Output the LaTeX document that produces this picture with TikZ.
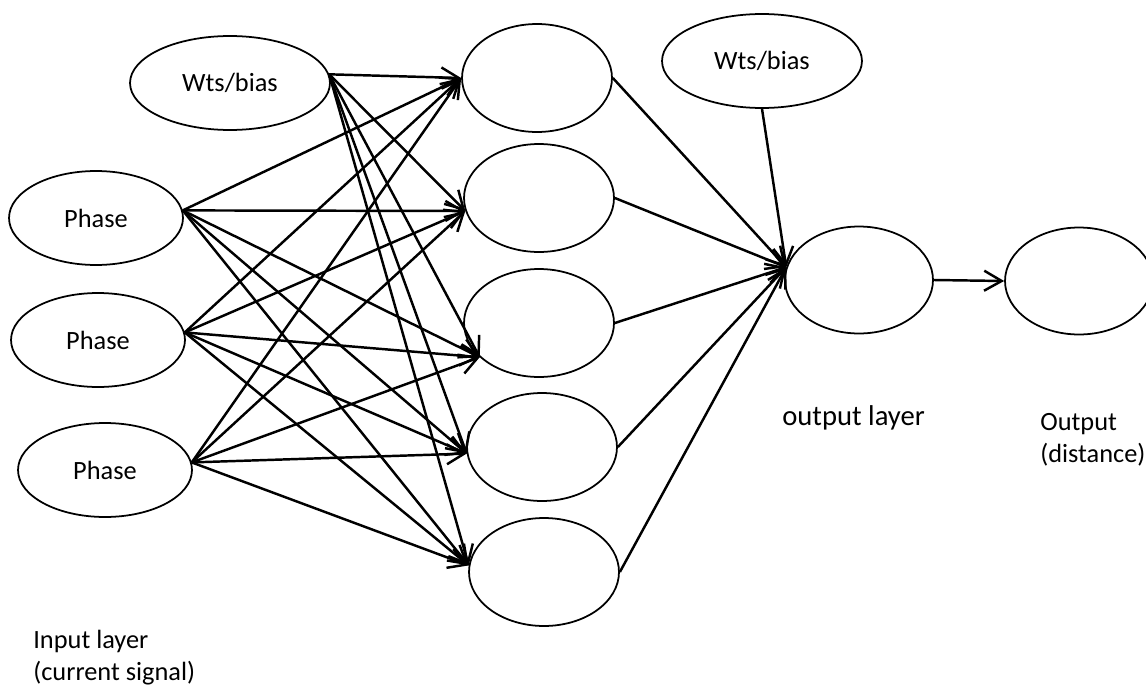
\documentclass[tikz,border=0pt]{standalone}
\usepackage{fontspec}
\setmainfont{Carlito}
\usetikzlibrary{arrows.meta,shapes.geometric}

\begin{document}
\begin{tikzpicture}[x=0.02cm,y=-0.02cm,
  font=\fontsize{15}{18}\selectfont,
  unit/.style={draw,ellipse,line width=1pt,inner sep=0pt,minimum width=3cm,minimum height=2.16cm},
  inp/.style={unit,minimum width=3.48cm,minimum height=1.88cm},
  wts/.style={unit,minimum width=4cm,minimum height=1.88cm},
  arr/.style={line width=1.4pt,-{Straight Barb[length=3.5mm,width=4mm]}}]
\useasboundingbox (0,0) rectangle (1146,693);
% input layer
\node[wts] (wb1) at (230,83) {Wts/bias};
\node[inp] (ph1) at (96,218) {Phase};
\node[inp] (ph2) at (98,340) {Phase};
\node[inp] (ph3) at (105,470) {Phase};
% hidden layer
\node[unit] (h1) at (537,78) {};
\node[unit] (h2) at (539,198) {};
\node[unit] (h3) at (539,323) {};
\node[unit] (h4) at (542,447) {};
\node[unit] (h5) at (544,572) {};
% output side
\node[wts] (wb2) at (762,61) {Wts/bias};
\node[unit,minimum width=2.96cm,minimum height=2.14cm] (ol) at (859,280) {};
\node[unit,minimum width=2.96cm,minimum height=2.14cm] (out) at (1079,281) {};
% connections
\foreach \h/\a in {h1/180,h2/190,h3/210,h4/185,h5/175}
  \foreach \s in {wb1,ph1,ph2,ph3}
    \draw[arr] (\s.5) -- (\h.\a);
\foreach \h in {h1,h2,h3,h4,h5}
  \draw[arr] (\h.east) -- (ol.170);
\draw[arr] (wb2.south) -- (ol.170);
\draw[arr] (ol.east) -- (out.west);
% labels
\node[anchor=base west,inner sep=0pt,font=\fontsize{16.3}{19}\selectfont] (ollbl) at (782,425) {output layer};
\node[anchor=north west,align=left,inner sep=0pt] (outlbl) at (1040,413) {Output\\(distance)};
\node[anchor=north west,align=left,inner sep=0pt] (inlbl) at (33,630) {Input layer\\(current signal)};
\end{tikzpicture}
\end{document}
